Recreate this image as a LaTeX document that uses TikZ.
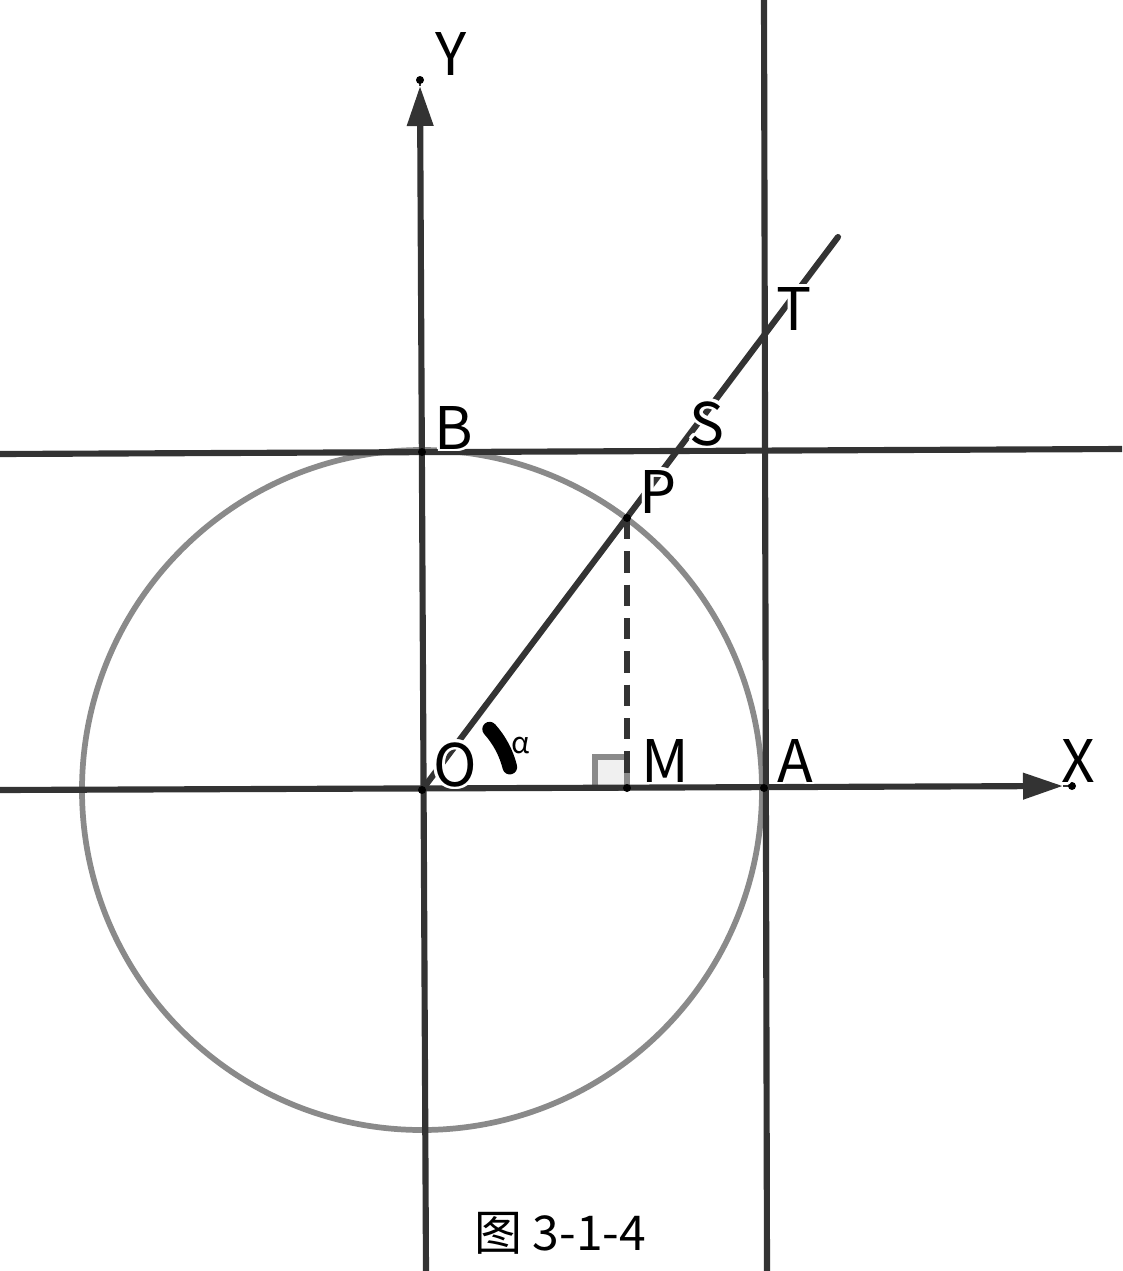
\documentclass[tikz,border=0pt]{standalone}
\usepackage{fontspec}
\setmainfont{Noto Sans CJK SC}
\usepackage{contour}
\contourlength{2.2pt}
\usetikzlibrary{arrows.meta}
\definecolor{ink}{HTML}{333333}
\definecolor{circ}{HTML}{8A8A8A}
\begin{document}
\begin{tikzpicture}[x=0.75pt,y=-0.75pt,
  axis/.style={ink,line width=4.6pt},
  ptdot/.style={circle,fill=black,inner sep=0pt,minimum size=6pt},
  lab/.style={font=\fontsize{44}{44}\selectfont,inner sep=0pt,anchor=base},
  arrowtip/.style={-{Triangle[length=30pt,width=19pt]}}]
\useasboundingbox (0,0) rectangle (1122,1271);
% coordinates
\coordinate (O) at (422,790);
\coordinate (P) at (627,518);
\coordinate (M) at (627,788);
\coordinate (A) at (764,788);
\coordinate (B) at (422,452);
\coordinate (E) at (838,237);
\coordinate (Xs) at (0,790);
\coordinate (Xa) at (1063,786);
\coordinate (Xe) at (1072,786);
\coordinate (Ys) at (426,1271);
\coordinate (Ya) at (420,86);
\coordinate (Ye) at (420,80);
\coordinate (Vt) at (764,0);
\coordinate (Vb) at (767,1271);
\coordinate (Hl) at (0,454);
\coordinate (Hr) at (1122,449);
% circle
\draw[circ,line width=4.3pt] (O) circle (340);
% right angle mark
\draw[circ,fill=gray!12,line width=4pt] (595,757) rectangle (627,788);
% lines
\draw[axis] (Vt) -- (Vb);
\draw[axis] (Hl) -- (Hr);
\draw[axis,arrowtip] (Xs) -- (Xa);
\draw[ink,line width=1pt] (Xa) -- (Xe);
\draw[axis,arrowtip] (Ys) -- (Ya);
\draw[ink,line width=1pt] (Ya) -- (Ye);
\draw[axis,line cap=round] (O) -- (E);
\draw[axis,dash pattern=on 16pt off 9pt] (P) -- (M);
% angle mark
\draw[black,line width=11pt,line cap=round] ([shift={(-42:91)}]O) arc[start angle=-42,end angle=-14,radius=89];
% dots
\foreach \p in {O,P,M,A,B,Xe,Ye} \node[ptdot] at (\p) {};
% labels
\node[lab] (lY) at (451,75) {\contour{white}{Y}};
\node[lab] (lX) at (1078,782) {\contour{white}{X}};
\node[lab] (lT) at (794,330) {\contour{white}{T}};
\node[lab] (lS) at (707,445) {\contour{white}{S}};
\node[lab] (lP) at (658,513) {\contour{white}{P}};
\node[lab] (lB) at (454,449) {\contour{white}{B}};
\node[lab] (lO) at (455,786) {\contour{white}{O}};
\node[lab] (lM) at (665,782) {\contour{white}{M}};
\node[lab] (lA) at (795,782) {\contour{white}{A}};
\node[font=\fontsize{22}{22}\selectfont,inner sep=0pt,anchor=base] (lalpha) at (521,753) {α};
\node[font=\fontsize{36}{36}\selectfont,inner sep=0pt,anchor=base] (cap) at (560,1250) {图 3-1-4};
\end{tikzpicture}
\end{document}
